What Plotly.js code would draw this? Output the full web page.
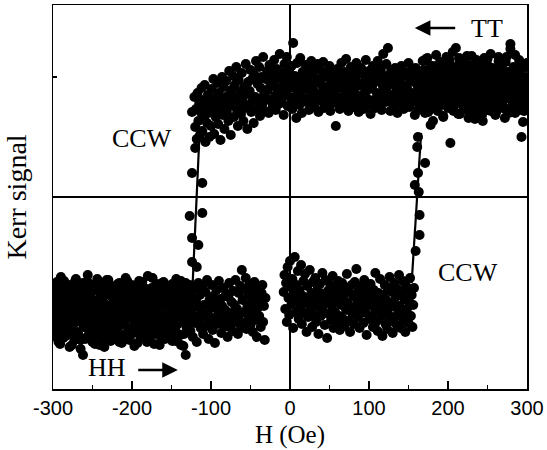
<!DOCTYPE html>
<html>
<head>
<meta charset="utf-8">
<script src="https://cdn.plot.ly/plotly-3.0.1.min.js"></script>
<style>html,body{margin:0;padding:0;background:#fff;}#chart{width:547px;height:450px;}</style>
</head>
<body>
<div id="chart"></div>
<script>
// Applied field H (Oe), one reading per Oe
const field = [
-300,-299,-298,-297,-296,-295,-294,-293,-292,-291,-290,-289,-288,-287,-286,-285,-284,-283,-282,-281,
-280,-279,-278,-277,-276,-275,-274,-273,-272,-271,-270,-269,-268,-267,-266,-265,-264,-263,-262,-261,
-260,-259,-258,-257,-256,-255,-254,-253,-252,-251,-250,-249,-248,-247,-246,-245,-244,-243,-242,-241,
-240,-239,-238,-237,-236,-235,-234,-233,-232,-231,-230,-229,-228,-227,-226,-225,-224,-223,-222,-221,
-220,-219,-218,-217,-216,-215,-214,-213,-212,-211,-210,-209,-208,-207,-206,-205,-204,-203,-202,-201,
-200,-199,-198,-197,-196,-195,-194,-193,-192,-191,-190,-189,-188,-187,-186,-185,-184,-183,-182,-181,
-180,-179,-178,-177,-176,-175,-174,-173,-172,-171,-170,-169,-168,-167,-166,-165,-164,-163,-162,-161,
-160,-159,-158,-157,-156,-155,-154,-153,-152,-151,-150,-149,-148,-147,-146,-145,-144,-143,-142,-141,
-140,-139,-138,-137,-136,-135,-134,-133,-132,-131,-130,-129,-128,-127,-126,-125,-124,-123,-122,-121,
-120,-119,-118,-117,-116,-115,-114,-113,-112,-111,-110,-109,-108,-107,-106,-105,-104,-103,-102,-101,
-100,-99,-98,-97,-96,-95,-94,-93,-92,-91,-90,-89,-88,-87,-86,-85,-84,-83,-82,-81,
-80,-79,-78,-77,-76,-75,-74,-73,-72,-71,-70,-69,-68,-67,-66,-65,-64,-63,-62,-61,
-60,-59,-58,-57,-56,-55,-54,-53,-52,-51,-50,-49,-48,-47,-46,-45,-44,-43,-42,-41,
-40,-39,-38,-37,-36,-35,-34,-33,-32,-31,-30,-29,-28,-27,-26,-25,-24,-23,-22,-21,
-20,-19,-18,-17,-16,-15,-14,-13,-12,-11,-10,-9,-8,-7,-6,-5,-4,-3,-2,-1,
0,1,2,3,4,5,6,7,8,9,10,11,12,13,14,15,16,17,18,19,
20,21,22,23,24,25,26,27,28,29,30,31,32,33,34,35,36,37,38,39,
40,41,42,43,44,45,46,47,48,49,50,51,52,53,54,55,56,57,58,59,
60,61,62,63,64,65,66,67,68,69,70,71,72,73,74,75,76,77,78,79,
80,81,82,83,84,85,86,87,88,89,90,91,92,93,94,95,96,97,98,99,
100,101,102,103,104,105,106,107,108,109,110,111,112,113,114,115,116,117,118,119,
120,121,122,123,124,125,126,127,128,129,130,131,132,133,134,135,136,137,138,139,
140,141,142,143,144,145,146,147,148,149,150,151,152,153,154,155,156,157,158,159,
160,161,162,163,164,165,166,167,168,169,170,171,172,173,174,175,176,177,178,179,
180,181,182,183,184,185,186,187,188,189,190,191,192,193,194,195,196,197,198,199,
200,201,202,203,204,205,206,207,208,209,210,211,212,213,214,215,216,217,218,219,
220,221,222,223,224,225,226,227,228,229,230,231,232,233,234,235,236,237,238,239,
240,241,242,243,244,245,246,247,248,249,250,251,252,253,254,255,256,257,258,259,
260,261,262,263,264,265,266,267,268,269,270,271,272,273,274,275,276,277,278,279,
280,281,282,283,284,285,286,287,288,289,290,291,292,293,294,295,296,297,298,299,
300];

// Kerr signal (arb. units), descending-field sweep, listed by ascending field
const sweepDown = [
-104,-131,-92,-118,-140,-85,-112,-126,-98,-147,
-80,-115,-134,-101,-122,-90,-139,-108,-95,-128,
-117,-150,-88,-106,-133,-96,-121,-143,-84,-111,
-125,-99,-137,-91,-114,-152,-103,-119,-86,-130,
-109,-142,-94,-123,-78,-116,-135,-100,-127,-89,
-145,-105,-120,-93,-138,-112,-82,-129,-102,-148,
-97,-118,-136,-87,-124,-107,-141,-92,-115,-132,
-83,-110,-127,-144,-99,-121,-90,-135,-106,-119,
-139,-95,-113,-130,-86,-124,-101,-146,-108,-92,
-126,-114,-81,-137,-103,-120,-96,-143,-111,-88,
-131,-105,-123,-149,-93,-116,-134,-98,-127,-84,
-112,-140,-101,-119,-90,-133,-108,-125,-96,-145,
-79,-117,-130,-104,-138,-91,-122,-110,-147,-99,
-126,-87,-114,-135,-102,-120,-94,-141,-109,-131,
-85,-118,-142,-97,-124,-106,-136,-89,-115,-128,
-100,-144,-92,-121,-111,-133,-82,-127,-104,-139,
-95,-116,-148,-103,-125,-90,-137,-113,-86,-130,
-107,-122,-98,
null,null,null,null,null,null,
100,70,88,58,104,76,93,62,85,109,
66,97,79,112,55,90,74,102,84,60,
95,71,108,86,118,63,99,80,92,114,
73,104,88,57,97,120,82,110,68,93,
116,85,101,76,126,91,62,107,96,121,
80,112,99,130,87,71,117,94,105,83,
124,98,76,110,89,133,103,68,115,92,
106,127,85,118,97,74,122,100,136,88,
113,95,130,81,109,120,93,140,102,86,
118,99,126,107,84,132,111,96,123,90,
115,137,101,87,128,108,119,93,143,105,
97,124,112,82,133,103,118,140,91,110,
126,100,115,131,88,154,109,121,96,79,
134,104,117,92,139,111,84,125,99,120,
108,132,95,116,127,87,112,101,136,93,
122,106,90,129,114,98,133,85,118,103,
127,96,111,135,89,120,105,92,124,110,
99,131,86,115,107,126,94,119,102,71,
113,128,97,122,88,109,134,100,117,91,
125,104,138,95,112,86,121,107,130,98,
116,90,127,103,119,134,93,111,85,124,
101,129,96,114,88,122,106,137,99,117,
92,126,108,83,120,111,131,97,115,89,
123,104,136,94,118,100,128,87,112,143,
106,121,95,133,110,149,99,117,86,126,
102,120,91,113,129,97,108,84,124,105,
117,93,131,100,112,88,125,109,96,121,
107,134,90,115,101,127,95,118,104,82,
129,98,112,87,123,106,92,120,110,136,
97,118,84,125,108,139,93,114,101,72,
122,105,131,89,116,99,127,110,86,120,
103,134,95,117,128,81,109,124,98,140,
112,90,121,104,54,130,96,115,87,126,
107,149,99,119,83,111,136,94,123,102,
116,88,128,106,97,141,113,79,121,100,
131,93,110,125,85,118,104,137,96,114,
89,122,108,133,99,76,119,102,127,91,
115,138,97,111,124,86,106,129,94,120,
103,82,126,109,117,140,92,113,100,131,
96,121,107,88,135,114,99,125,84,110,
153,101,118,93,128,106,142,90,116,104,
123,87,112,134,97,119,75,108,130,94,
115,101];

// Kerr signal (arb. units), ascending-field sweep
const sweepUp = [
-121,-96,-138,-109,-87,-127,-115,-145,-100,-132,
-92,-119,-106,-141,-84,-124,-111,-98,-136,-117,
-103,-129,-90,-113,-148,-95,-126,-107,-139,-82,
-118,-135,-99,-122,-105,-143,-89,-114,-158,-101,
-130,-93,-116,-140,-85,-108,-125,-97,-134,-112,
-88,-121,-104,-147,-118,-91,-131,-110,-86,-124,
-139,-102,-115,-94,-128,-150,-107,-120,-83,-133,
-111,-98,-137,-123,-89,-116,-142,-104,-126,-95,
-119,-134,-87,-108,-145,-100,-122,-113,-91,-138,
-105,-127,-96,-117,-84,-132,-109,-140,-99,-121,
-93,-114,-136,-103,-125,-88,-118,-146,-107,-130,
-97,-123,-110,-85,-139,-115,-101,-128,-92,-135,
-119,-106,-143,-94,-124,-112,-81,-131,-102,-117,
-137,-90,-113,-126,-98,-148,-108,-121,-86,-129,
-104,-133,-95,-118,-141,-100,-125,-89,-114,-136,
-122,-87,-109,-130,-97,-144,-116,-103,-127,-92,
-111,-138,-84,-120,-105,-149,-99,-124,-158,-115,
-96,-128,-107,-88,-134,-113,-101,-140,-119,-92,
-126,-104,-145,-110,-86,-123,-98,-131,-115,-90,
-137,-108,-120,-95,-129,-83,-117,-142,-103,-125,
-111,-88,-133,-99,-121,-146,-106,-93,-127,-114,
-84,-118,-102,-136,-109,-124,-91,-130,-113,-97,
-122,-140,-100,-86,-116,-128,-105,-134,-94,-119,
-108,-83,-125,-112,-137,-96,-118,-89,-131,-73,
-103,-126,-92,-115,-81,-132,-110,-98,-121,-87,
-128,-106,-94,-135,-114,-85,-123,-100,-140,-111,
-90,-119,-104,-130,-96,-88,-125,-109,-143,-101,
null,null,null,null,null,null,null,null,null,null,
null,null,null,null,null,null,null,null,null,null,
null,null,
-95,-78,-112,-86,-125,-70,-101,-118,-64,-90,
-107,-82,-131,-97,-60,-115,-88,-104,-74,-122,
-93,-110,-68,-127,-99,-84,-116,-77,-106,-135,
-89,-120,-102,-73,-113,-96,-130,-85,-108,-118,
-81,-125,-100,-92,-137,-110,-87,-119,-104,-76,
-114,-97,-128,-83,-106,-141,-94,-117,-101,-88,
-123,-109,-79,-131,-98,-115,-90,-126,-105,-84,
-119,-133,-96,-108,-86,-122,-102,-129,-91,-113,
-77,-106,-124,-95,-135,-110,-88,-117,-99,-127,
-85,-112,-72,-103,-120,-94,-131,-107,-89,-116,
-100,-126,-83,-114,-97,-138,-108,-91,-122,-104,
-87,-119,-101,-130,-93,-111,-76,-125,-105,-134,
-96,-115,-82,-121,-107,-139,-98,-113,-88,-127,
-103,-132,-91,-118,-80,-110,-124,-95,-136,-106,
-86,-120,-100,-128,-92,-114,-78,-109,-131,-97,
-117,-84,-123,-102,-135,-89,-112,-93,-126,-105,
-81,-119,-98,-130,-108,-91,
null,null,null,null,null,null,null,null,null,null,
104,127,91,116,138,98,112,85,122,107,
131,95,118,76,109,126,100,142,88,114,
121,103,135,92,111,128,80,117,99,133,
106,124,89,115,137,97,119,108,145,86,
113,130,101,123,94,110,139,83,117,105,
127,91,114,136,100,120,87,109,132,96,
118,104,141,90,112,125,78,107,129,98,
115,134,93,121,103,82,126,110,139,95,
108,119,87,131,100,116,143,92,124,106,
97,128,112,85,120,104,136,90,117,101,
133,94,111,125,79,107,140,99,118,88,
114,148,102,123,91,130,105,84,119,96,
127,109,137,93,116,60,103,129,86,112,
120,98,134];

// Readings taken during the switching jumps
const jumpLeftH  = [-120,-124,-124,-111,-127,-111,-124,-116,-124,-118];
const jumpLeftK  = [49,85,24,14,-19,-16,-41,-48,-65,-70];
const jumpRightH = [162,161,171,162,158,163,164,164,159];
const jumpRightK = [60,50,34,24,12,5,-18,-38,-54];

// Guide lines through the switching steps
const guideLeftH  = [-124,-115];
const guideLeftK  = [-100,55];
const guideRightH = [154,166];
const guideRightK = [-86,64];

// Axis ticks
const tickVals   = [-300,-200,-100,0,100,200,300];
const tickLabels = ['-300','-200','-100','0','100','200','300'];
const minorVals  = [-250,-150,-50,50,150,250];
const yTickVals  = [-120,120];

const serif = '"Liberation Serif","Times New Roman",serif';
const sans = '"Liberation Sans",Arial,sans-serif';
const mk = {color:'#000', size:10};

const traces = [
  {x: field, y: sweepDown, mode:'markers', type:'scatter', marker: mk, hoverinfo:'skip'},
  {x: field, y: sweepUp, mode:'markers', type:'scatter', marker: mk, hoverinfo:'skip'},
  {x: jumpLeftH, y: jumpLeftK, mode:'markers', type:'scatter', marker: mk, hoverinfo:'skip'},
  {x: jumpRightH, y: jumpRightK, mode:'markers', type:'scatter', marker: mk, hoverinfo:'skip'},
  {x: guideLeftH, y: guideLeftK, mode:'lines', type:'scatter', line:{color:'#000', width:2.2}, hoverinfo:'skip'},
  {x: guideRightH, y: guideRightK, mode:'lines', type:'scatter', line:{color:'#000', width:2.2}, hoverinfo:'skip'}
];

const txt = (t, x, y) => ({text:t, x:x, y:y, xref:'x', yref:'y', showarrow:false,
  font:{family:serif, size:26, color:'#000'}});
const arrow = (xh, xt, y) => ({text:'', x:xh, y:y, ax:xt, ay:y, xref:'x', yref:'y', axref:'x', ayref:'y',
  showarrow:true, arrowhead:2, arrowsize:1.3, arrowwidth:2.4, arrowcolor:'#000', standoff:0, startstandoff:0});

const layout = {
  width:547, height:450,
  margin:{l:53, r:20, t:5, b:61},
  paper_bgcolor:'#fff', plot_bgcolor:'#fff',
  showlegend:false,
  xaxis:{
    range:[-300,300], tickmode:'array', tickvals:tickVals, ticktext:tickLabels,
    ticks:'inside', ticklen:8, tickwidth:1.5, tickcolor:'#000',
    minor:{tickmode:'array', tickvals:minorVals, ticks:'inside', ticklen:4, tickwidth:1.5, tickcolor:'#000', showgrid:false},
    showgrid:false, zeroline:true, zerolinecolor:'#000', zerolinewidth:1.5,
    showline:true, linecolor:'#000', linewidth:1.5, mirror:true,
    tickfont:{family:sans, size:20, color:'#000'},
    title:{text:'H (Oe)', font:{family:serif, size:25, color:'#000'}, standoff:8}
  },
  yaxis:{
    range:[-192,192], tickmode:'array', tickvals:yTickVals, showticklabels:false,
    ticks:'inside', ticklen:4, tickwidth:1.5, tickcolor:'#000',
    showgrid:false, zeroline:true, zerolinecolor:'#000', zerolinewidth:1.5,
    showline:true, linecolor:'#000', linewidth:1.5, mirror:true,
    title:{text:'Kerr signal', font:{family:serif, size:28, color:'#000'}, standoff:16}
  },
  annotations:[
    txt('CCW', -187, 59),
    txt('CCW', 225, -75),
    txt('TT', 249, 169),
    txt('HH', -232, -170),
    arrow(158, 211, 169),
    arrow(-142, -194, -173)
  ]
};

Plotly.newPlot('chart', traces, layout, {staticPlot:true, displayModeBar:false});
</script>
</body>
</html>
